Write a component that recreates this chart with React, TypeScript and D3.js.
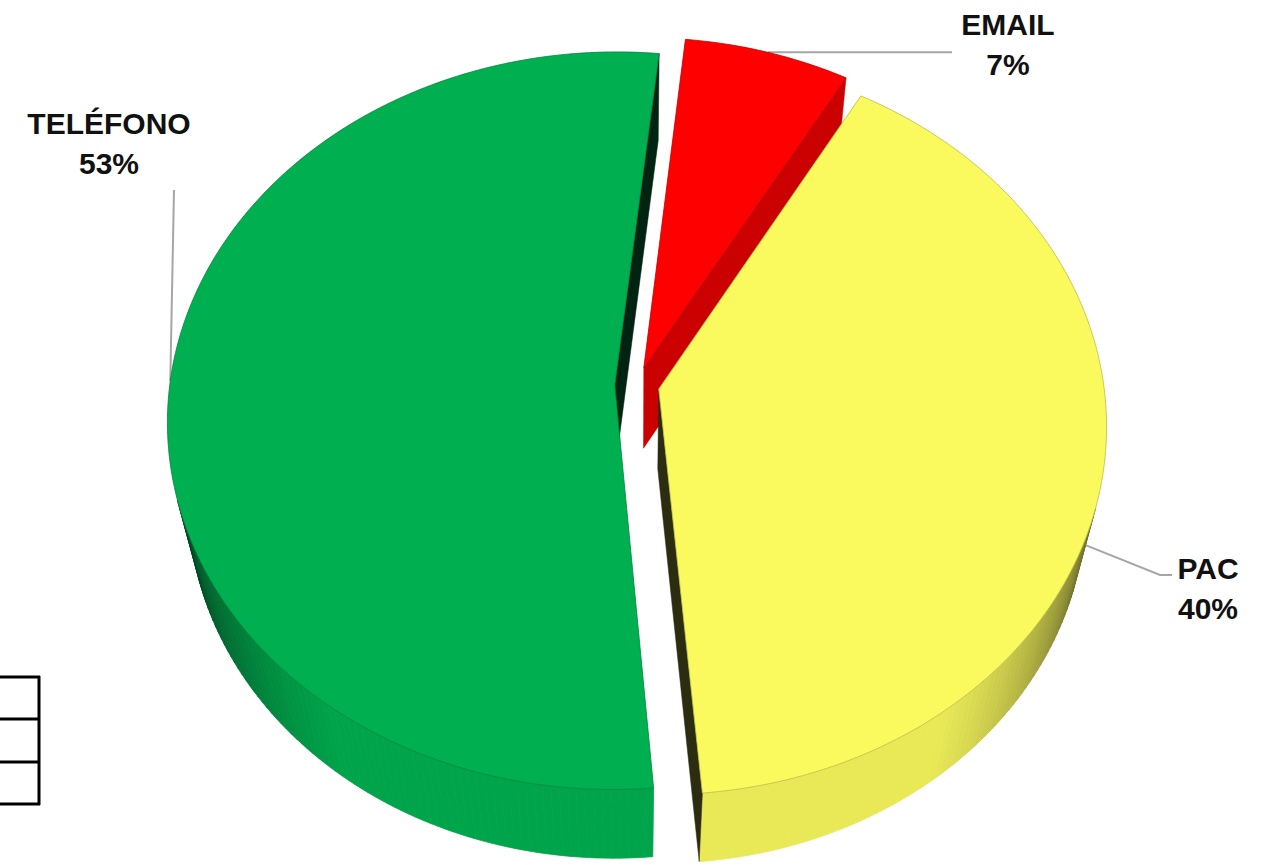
import React, { useMemo } from "react";
import * as d3 from "d3";

// ---- data ----
const CATEGORIES = ["EMAIL", "PAC", "TELÉFONO"];
const VALUES = [6.6, 40.4, 53.0];
const COLORS = ["#FF0000", "#FAFA5E", "#00B050"];

// ---- layout / style ----
const W = 1268;
const H = 865;
const CX = 637;
const CY = 385;
const SCALE = 445;
const SIN_T = 0.821;
const COS_T = Math.sqrt(1 - SIN_T * SIN_T);
const CAM = 5.86;
const DEPTH = 0.33;
const EXPLODE = 0.05;
const START_DEG = 6;

const LABEL_POS = [
  { x: 1008, y: 35 },
  { x: 1208, y: 579 },
  { x: 109, y: 134 },
];
const LINE_GAP = 40;
// leader lines: anchor on slice (angle in deg or null = mid angle, zFrac of depth), then fixed elbow points
const LEADERS = [
  { angle: null as number | null, zFrac: 0, pts: [[952, null]] as [number, number | null][] },
  { angle: 108, zFrac: 0.5, pts: [[1160, 575], [1172, 575]] as [number, number | null][] },
  { angle: null as number | null, zFrac: 0, pts: [[174, 190]] as [number, number | null][] },
];

function project(x: number, y: number, z: number): [number, number] {
  const up = -y * SIN_T + z * COS_T;
  const depth = y * COS_T + z * SIN_T;
  const k = CAM / (CAM - depth);
  return [CX + SCALE * k * x, CY - SCALE * k * up];
}

function shade(base: string, b: number) {
  const c = d3.rgb(base);
  return d3.rgb(c.r * b, c.g * b, c.b * b).formatHex();
}

function wallBright(ny: number) {
  return Math.min(0.93, 0.08 + 1.05 * Math.max(0, ny));
}
function cutBright(ny: number) {
  return Math.min(0.9, 0.05 + 1.5 * Math.max(0, ny));
}

const camPos = [0, CAM * COS_T, CAM * SIN_T];
function visible(n: number[], p: number[]) {
  return n[0] * (camPos[0] - p[0]) + n[1] * (camPos[1] - p[1]) + n[2] * (camPos[2] - p[2]) > 0;
}

export default function App() {
  const geo = useMemo(() => {
    const pie = d3
      .pie<number>()
      .sort(null)
      .value((d) => d)
      .startAngle((START_DEG * Math.PI) / 180)
      .endAngle((START_DEG * Math.PI) / 180 + 2 * Math.PI);
    const arcs = pie(VALUES);
    const total = d3.sum(VALUES);
    const line = d3.line().curve(d3.curveLinearClosed);

    const walls: { d: string; fill: string }[] = [];
    const cuts: { d: string; fill: string }[] = [];
    const tops: { d: string; fill: string; stroke: string }[] = [];
    const leaders: { d: string }[] = [];

    arcs.forEach((a, i) => {
      const base = COLORS[i];
      const mid = (a.startAngle + a.endAngle) / 2;
      const ox = EXPLODE * Math.sin(mid);
      const oy = -EXPLODE * Math.cos(mid);
      const rim = (t: number, z: number) => project(ox + Math.sin(t), oy - Math.cos(t), z);
      const ctr = (z: number) => project(ox, oy, z);
      const n = Math.max(2, Math.ceil(((a.endAngle - a.startAngle) * 180) / Math.PI));
      const ts = d3.range(n + 1).map((j) => a.startAngle + ((a.endAngle - a.startAngle) * j) / n);

      // outer walls
      for (let j = 0; j < n; j++) {
        const t0 = ts[j];
        const t1 = ts[j + 1];
        const tm = (t0 + t1) / 2;
        const nrm = [Math.sin(tm), -Math.cos(tm), 0];
        const p = [ox + Math.sin(tm), oy - Math.cos(tm), -DEPTH / 2];
        if (!visible(nrm, p)) continue;
        const b = wallBright(-Math.cos(tm));
        walls.push({
          d: line([rim(t0, 0), rim(t1, 0), rim(t1, -DEPTH), rim(t0, -DEPTH)]) as string,
          fill: shade(base, b),
        });
      }

      // cut faces
      const faces = [
        { t: a.startAngle, nrm: [-Math.cos(a.startAngle), -Math.sin(a.startAngle), 0] },
        { t: a.endAngle, nrm: [Math.cos(a.endAngle), Math.sin(a.endAngle), 0] },
      ];
      faces.forEach((f) => {
        const p = [ox + 0.5 * Math.sin(f.t), oy - 0.5 * Math.cos(f.t), -DEPTH / 2];
        if (!visible(f.nrm, p)) return;
        cuts.push({
          d: line([ctr(0), rim(f.t, 0), rim(f.t, -DEPTH), ctr(-DEPTH)]) as string,
          fill: shade(base, cutBright(f.nrm[1])),
        });
      });

      // top face
      tops.push({
        d: line([ctr(0), ...ts.map((t) => rim(t, 0))]) as string,
        fill: base,
        stroke: shade(base, 0.75),
      });

      // leader line
      const L = LEADERS[i];
      const at = L.angle == null ? mid : (L.angle * Math.PI) / 180;
      const anchor = rim(at, -DEPTH * L.zFrac);
      const pts: [number, number][] = [anchor];
      L.pts.forEach(([x, y]) => pts.push([x, y == null ? anchor[1] : y]));
      leaders.push({ d: d3.line()(pts) as string });
    });

    const labels = arcs.map((a, i) => ({
      name: CATEGORIES[i],
      pct: d3.format(".0f")((a.data / total) * 100) + "%",
      ...LABEL_POS[i],
    }));

    return { walls, cuts, tops, leaders, labels };
  }, []);

  const tableRows = [677, 719, 762, 804];

  return (
    <svg
      width={W}
      height={H}
      viewBox={`0 0 ${W} ${H}`}
      style={{ position: "absolute", left: 0, top: 0, background: "#fff" }}
    >
      <rect x={0} y={0} width={W} height={H} fill="#fff" />
      <g stroke="#000" strokeWidth={3}>
        {tableRows.map((y) => (
          <line key={y} x1={-5} x2={40} y1={y} y2={y} />
        ))}
        <line x1={39} x2={39} y1={676} y2={805} />
      </g>
      <g fill="none" stroke="#A6A6A6" strokeWidth={2}>
        {geo.leaders.map((l, i) => (
          <path key={i} d={l.d} />
        ))}
      </g>
      <g>
        {geo.walls.map((w, i) => (
          <path key={i} d={w.d} fill={w.fill} stroke={w.fill} strokeWidth={0.8} />
        ))}
      </g>
      <g>
        {geo.cuts.map((c, i) => (
          <path key={i} d={c.d} fill={c.fill} stroke={c.fill} strokeWidth={0.5} />
        ))}
      </g>
      <g>
        {geo.tops.map((t, i) => (
          <path key={i} d={t.d} fill={t.fill} stroke={t.stroke} strokeWidth={0.8} />
        ))}
      </g>
      <g
        fontFamily="'Liberation Sans', Arial, sans-serif"
        fontWeight="bold"
        fontSize={30}
        fill="#111"
        textAnchor="middle"
      >
        {geo.labels.map((l) => (
          <text key={l.name} x={l.x} y={l.y}>
            <tspan x={l.x} y={l.y}>{l.name}</tspan>
            <tspan x={l.x} y={l.y + LINE_GAP}>{l.pct}</tspan>
          </text>
        ))}
      </g>
    </svg>
  );
}
